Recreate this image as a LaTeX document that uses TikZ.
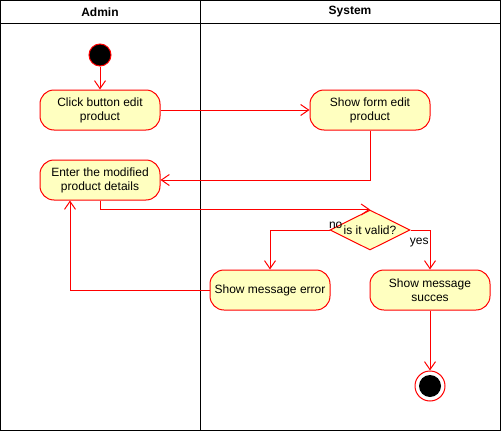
\documentclass[tikz,border=0pt]{standalone}
\usepackage{fontspec}
\setmainfont{Liberation Sans}
\usetikzlibrary{arrows.meta, shapes.geometric, positioning}
\definecolor{actfill}{RGB}{255,255,192}
\definecolor{actline}{RGB}{255,0,0}

\tikzset{
  activity/.style={draw=actline, fill=actfill, rounded corners=14pt,
    minimum width=120pt, minimum height=40pt, inner sep=2pt, align=center,
    font=\fontsize{12}{14}\selectfont},
  decision/.style={diamond, draw=actline, fill=actfill, minimum width=80pt,
    minimum height=40pt, inner sep=0pt},
  startnode/.style={circle, draw=actline, fill=black, minimum size=22pt, inner sep=0pt},
  endnode/.style={circle, draw=actline, fill=white, minimum size=30pt, inner sep=0pt},
  flow/.style={draw=actline, -{Straight Barb[length=8pt,width=11pt]}},
  lane/.style={font=\fontsize{12}{14}\selectfont\bfseries},
  guard/.style={font=\fontsize{12}{14}\selectfont, inner sep=1pt},
}

\begin{document}
\begin{tikzpicture}[x=1pt, y=-1pt, line width=1pt]
    \useasboundingbox (0,0) rectangle (501,431);

    % swimlanes
    \draw (0.5,0.5) rectangle (500.5,430.5);
    \draw (0.5,23) -- (500.5,23);
    \draw (200,0.5) -- (200,430.5);
    \node[lane] (admin) at (100,12) {Admin};
    \node[lane] (system) at (350,12) {System};

    % activities
    \node[startnode] (start) at (100,55) {};
    \node[activity] (click) at (100,110) {Click button edit\\product};
    \node[activity] (form) at (370,110) {Show form edit\\product};
    \node[activity] (enter) at (100,180) {Enter the modified\\product details};
    \node[decision, label={[guard]center:is it valid?}] (check) at (370,230) {};
    \node[activity] (error) at (270,290) {Show message error};
    \node[activity] (succ) at (430,290) {Show message\\succes};
    \node[endnode] (stop) at (430,386) {};
    \fill (stop) circle (11pt);

    % flows
    \draw[flow] (start) -- (click);
    \draw[flow] (click) -- (form);
    \draw[flow] (form.south) |- (enter.east);
    \draw[flow] (enter.south) |- (check.north);
    \draw[flow] (check.west) -| (error.north)
        node[guard, at start, above right, xshift=-2pt] {no};
    \draw[flow] (check.east) -| (succ.north)
        node[guard, pos=0.5, below left, yshift=-7pt] {yes};
    \draw[flow] (error.west) -| ([xshift=-30pt]enter.south);
    \draw[flow] (succ) -- (stop);
\end{tikzpicture}
\end{document}
